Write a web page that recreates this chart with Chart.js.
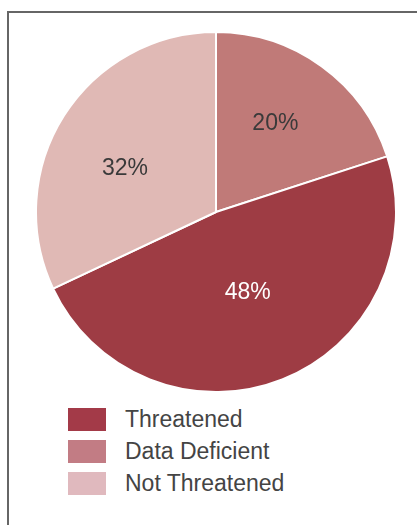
<!DOCTYPE html>
<html>
<head>
<meta charset="utf-8">
<script src="https://cdn.jsdelivr.net/npm/chart.js@4"></script>
<style>
  body { margin: 0; background: #fff; width: 417px; height: 525px; overflow: hidden; position: relative; font-family: "Liberation Sans", Arial, sans-serif; }
  #frame { position: absolute; left: 7px; top: 11px; width: 500px; height: 600px; border-left: 2px solid #666; border-top: 2px solid #666; }
  #pieChart { position: absolute; left: 35px; top: 31px; }
  #legend { position: absolute; left: 68px; top: 408px; }
  .row { height: 23px; margin-bottom: 9px; position: relative; }
  .swatch { position: absolute; left: 0; top: 0; width: 38px; height: 23px; }
  .label { position: absolute; left: 57px; top: 0; font-size: 23px; line-height: 23px; color: #444; white-space: nowrap; }
</style>
</head>
<body>
<div id="frame"></div>
<canvas id="pieChart" width="362" height="362"></canvas>
<div id="legend"></div>
<script>
// slices, clockwise from 12 o'clock
const categories = ["Data Deficient", "Threatened", "Not Threatened"];
const shares = [20, 48, 32];
const sliceColors = ["#c07a78", "#9e3c44", "#e0b9b5"];
const legendOrder = ["Threatened", "Data Deficient", "Not Threatened"];
const legendColors = ["#a33a48", "#c27c84", "#e0b9be"];

const canvas = document.getElementById("pieChart");
const ctx = canvas.getContext("2d");

// percentage labels inside the slices
const sliceLabels = {
    id: "sliceLabels",
    afterDatasetsDraw(chart, args, opts) {
        const c = chart.ctx;
        const meta = chart.getDatasetMeta(0);
        c.save();
        c.font = "23px 'Liberation Sans', Arial, sans-serif";
        c.textAlign = "center";
        c.textBaseline = "middle";
        meta.data.forEach((arc, i) => {
            const p = arc.getProps(["x", "y", "startAngle", "endAngle", "outerRadius"], true);
            const mid = (p.startAngle + p.endAngle) / 2 + opts.shift[i] * Math.PI / 180;
            const r = p.outerRadius * opts.radius[i];
            c.fillStyle = opts.colors[i];
            c.fillText(chart.data.datasets[0].data[i] + "%", p.x + Math.cos(mid) * r, p.y + Math.sin(mid) * r);
        });
        c.restore();
    }
};

window.myChart = new Chart(ctx, {
    type: "pie",
    data: {
        labels: categories,
        datasets: [{
            data: shares,
            backgroundColor: sliceColors,
            borderColor: "#ffffff",
            borderWidth: 2,
        }],
    },
    options: {
        responsive: false,
        animation: false,
        events: [],
        plugins: {
            legend: { display: false },
            tooltip: { enabled: false },
            sliceLabels: {
                radius: [0.59, 0.48, 0.56],
                shift: [-2, 0, -7],
                colors: ["#3a3a3a", "#ffffff", "#3a3a3a"],
            },
        },
    },
    plugins: [sliceLabels],
});

// legend below the pie
const legend = document.getElementById("legend");
legendOrder.forEach((name, i) => {
    const row = document.createElement("div");
    row.className = "row";
    row.innerHTML = '<div class="swatch" style="background:' + legendColors[i] + '"></div><div class="label">' + name + '</div>';
    legend.appendChild(row);
});
</script>
</body>
</html>
